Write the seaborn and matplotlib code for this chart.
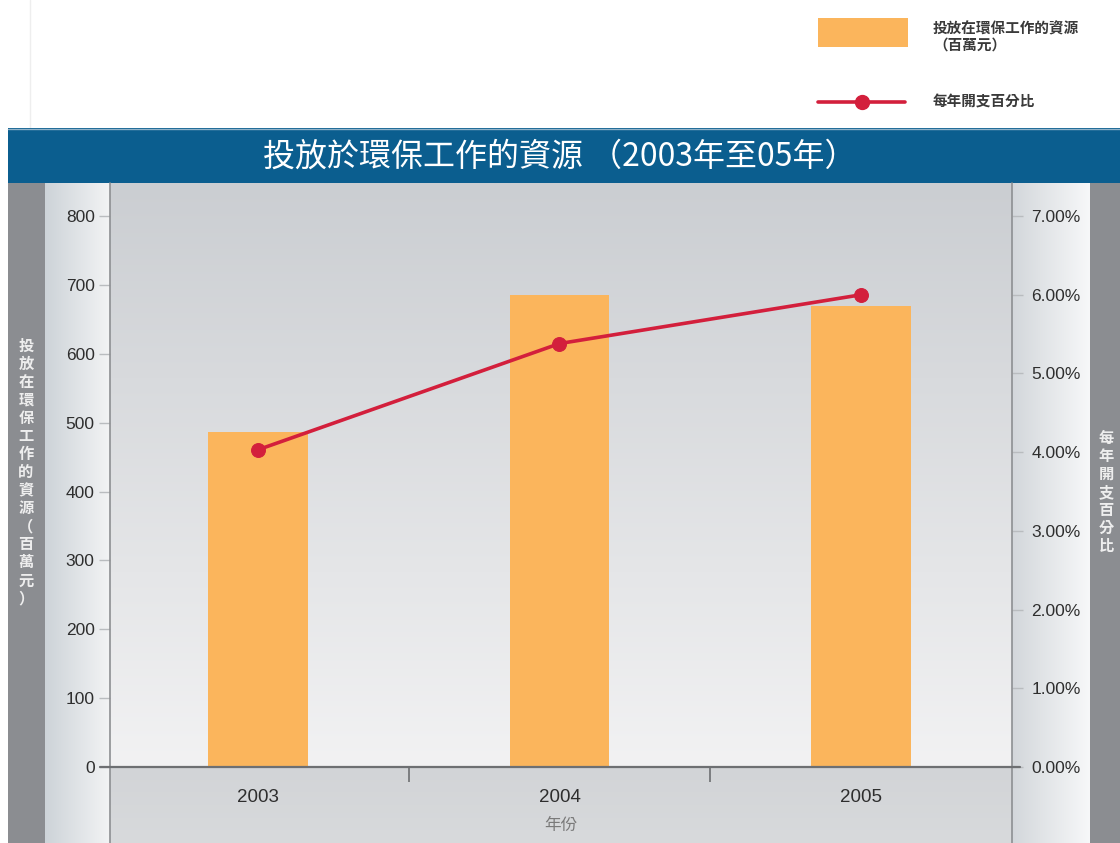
import numpy as np
import pandas as pd
import matplotlib
matplotlib.use("Agg")
import matplotlib.pyplot as plt
import seaborn as sns
from matplotlib.patches import Rectangle
from matplotlib.lines import Line2D
from matplotlib.colors import to_rgb
from matplotlib.ticker import FuncFormatter

# ── data ──────────────────────────────────────────────────────────────
years = ["2003", "2004", "2005"]
resources = [486, 686, 670]      # 投放在環保工作的資源（百萬元）
pct = [4.03, 5.38, 6.00]         # 每年開支百分比 (%)
left_ticks = [0, 100, 200, 300, 400, 500, 600, 700, 800]
right_ticks = [0, 1, 2, 3, 4, 5, 6, 7]

title = "投放於環保工作的資源 （2003年至05年）"
left_label = "投放在環保工作的資源（百萬元）"
right_label = "每年開支百分比"
bar_legend = ["投放在環保工作的資源", "（百萬元）"]
x_label = "年份"

BAR = "#fbb55c"
RED = "#d31f3c"
BLUE = "#0b5e8f"
STRIP = "#8b8d91"
CJK = ["Noto Sans CJK TC", "DejaVu Sans"]

W, H = 1120, 843

sns.set_theme(style="white")
plt.rcParams['font.family'] = ["Liberation Sans", "Noto Sans CJK TC", "DejaVu Sans"]

fig = plt.figure(figsize=(W / 100, H / 100), dpi=100)
fig.patch.set_facecolor("white")


def rect(x0, y0, x1, y1):
    """pixel box (top-left origin) -> figure rect"""
    return [x0 / W, 1 - y1 / H, (x1 - x0) / W, (y1 - y0) / H]


def box(x0, y0, x1, y1, color, z=-1):
    r = rect(x0, y0, x1, y1)
    fig.add_artist(Rectangle((r[0], r[1]), r[2], r[3], transform=fig.transFigure,
                             facecolor=color, edgecolor="none", zorder=z))


def gradient(x0, y0, x1, y1, c0, c1, vertical=True):
    bg = fig.add_axes(rect(x0, y0, x1, y1), zorder=0)
    t = np.linspace(0, 1, 256)[:, None]
    cols = (1 - t) * np.array(to_rgb(c0)) + t * np.array(to_rgb(c1))
    img = cols[:, None, :] if vertical else cols[None, :, :]
    bg.imshow(img, aspect="auto", interpolation="bilinear")
    bg.axis("off")


def fline(xs, ys, color, lw, z=5):
    fig.add_artist(Line2D([x / W for x in xs], [1 - y / H for y in ys],
                          transform=fig.transFigure, color=color, lw=lw, zorder=z))


# ── background panels ─────────────────────────────────────────────────
fline([30, 30], [0, 128], "#eeeeee", 1, z=-1)
box(8, 128, W, 183, BLUE)
fline([8, W], [128.5, 128.5], "#8fb2c9", 1)
box(8, 183, 45, H, STRIP)
box(1090, 183, W, H, STRIP)
gradient(45, 183, 110, H, "#cdd3d8", "#f3f4f5", vertical=False)
gradient(1012, 183, 1090, H, "#d3d7db", "#f7f8f9", vertical=False)
gradient(110, 183, 1012, 767, "#cbced2", "#f2f2f3", vertical=True)
gradient(110, 767, 1012, H, "#d2d4d7", "#d8dadc", vertical=True)

# ── main chart ────────────────────────────────────────────────────────
df = pd.DataFrame({"year": years, "resources": resources, "pct": pct})

ax = fig.add_axes(rect(110, 183, 1012, 767), zorder=2)
ax.patch.set_alpha(0)
sns.barplot(data=df, x="year", y="resources", color=BAR, saturation=1,
            width=0.33, linewidth=0, edgecolor="none", ax=ax)
ax.set_ylim(0, 848)
ax.set_yticks(left_ticks)

ax2 = ax.twinx()
ax2.patch.set_alpha(0)
sns.lineplot(x=np.arange(len(years)), y=df["pct"], ax=ax2, color=RED,
             lw=2.6, marker="o", markersize=10, markeredgecolor=RED)
ax2.set_ylim(0, 7.42)
ax2.set_yticks(right_ticks)
ax2.yaxis.set_major_formatter(FuncFormatter(lambda v, _: f"{v:.2f}%"))
ax.set_xlim(-0.49, 2.5)

for a in (ax, ax2):
    for s in a.spines.values():
        s.set_visible(False)
    a.set_ylabel("")
    a.set_xlabel("")

ax.set_xticks([0.5, 1.5], minor=True)
ax.tick_params(axis="x", which="major", length=0, pad=16, labelsize=13.5,
               labelcolor="#2e2e2e")
ax.tick_params(axis="x", which="minor", length=11, width=1.2, color="#6d6f72",
               direction="out", bottom=True)
ax.tick_params(axis="y", length=8, width=1, color="#b9bcbf", pad=3,
               labelsize=12.5, labelcolor="#2e2e2e", left=True)
ax2.tick_params(axis="y", length=8, width=1, color="#b9bcbf", pad=6,
                labelsize=12.5, labelcolor="#2e2e2e", right=True)
ax.set_xlabel(x_label, fontsize=12, color="#7a7a7a", labelpad=8, family=CJK)

# spines extended to the bottom of the panel, x axis line
fline([110, 110], [183, H], "#8d8f92", 1.2)
fline([1012, 1012], [183, H], "#8d8f92", 1.2)
fline([100, 1020], [767, 767], "#6d6f72", 1.6)

# ── texts ─────────────────────────────────────────────────────────────
fig.text(560 / W, 1 - 157 / H, title, color="white", fontsize=23,
         ha="center", va="center", family=CJK)
fig.text(26 / W, 1 - 472 / H, "\n".join(left_label), color="#eeeeee",
         fontsize=11, ha="center", va="center", linespacing=1.16,
         family=CJK, fontweight="bold")
fig.text(1106 / W, 1 - 492 / H, "\n".join(right_label), color="#eeeeee",
         fontsize=11, ha="center", va="center", linespacing=1.16,
         family=CJK, fontweight="bold")

# ── legend ────────────────────────────────────────────────────────────
box(818, 18, 908, 47, BAR, z=3)
fig.text(933 / W, 1 - 28 / H, bar_legend[0], fontsize=10.5, color="#3a3a3a",
         va="center", ha="left", family=CJK, fontweight="bold")
fig.text(933 / W, 1 - 45 / H, bar_legend[1], fontsize=10.5, color="#3a3a3a",
         va="center", ha="left", family=CJK, fontweight="bold")
fline([818, 905], [102, 102], RED, 2.6)
fig.add_artist(Line2D([862 / W], [1 - 102 / H], transform=fig.transFigure,
                      marker="o", markersize=10, color=RED, zorder=6))
fig.text(933 / W, 1 - 102 / H, right_label, fontsize=10.5, color="#3a3a3a",
         va="center", ha="left", family=CJK, fontweight="bold")

fig.savefig("out.png", dpi=100)
